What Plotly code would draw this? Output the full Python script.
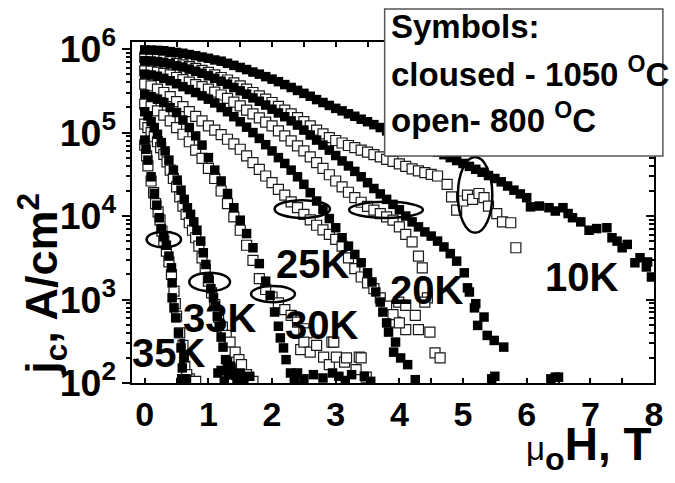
import numpy as np
import plotly.graph_objects as go

# Field mu0*H (T) and log10 of jc (A/cm^2) for each temperature.
# c* = closed symbols (1050 C anneal), o* = open symbols (800 C anneal)

c10_h = [0, 0.1, 0.2, 0.3, 0.4, 0.5, 0.6, 0.7, 0.8, 0.9, 1.0, 1.1, 1.2, 1.3, 1.4, 1.5, 1.6, 1.7, 1.8, 1.9, 2.0,
         2.1, 2.2, 2.3, 2.4, 2.5, 2.6, 2.7, 2.8, 2.9, 3.0, 3.1, 3.2, 3.3, 3.4, 3.5, 3.6, 3.7, 3.8, 3.9, 4.0, 4.1,
         4.2, 4.3, 4.4, 4.5, 4.6, 4.7, 4.8, 4.9, 5.0, 5.1, 5.2, 5.3, 5.4, 5.5, 5.6, 5.7, 5.8, 5.9, 6.0,
         6.06, 6.2, 6.35, 6.45, 6.57, 6.65, 6.72, 6.85, 6.98, 7.1, 7.26, 7.34, 7.42, 7.5, 7.58, 7.7, 7.78, 7.88,
         7.96, 7.9]
c10_lg = [5.99, 5.988, 5.985, 5.98, 5.97, 5.96, 5.95, 5.935, 5.92, 5.905, 5.89, 5.87, 5.855, 5.83, 5.805, 5.78,
          5.755, 5.725, 5.70, 5.67, 5.64, 5.61, 5.575, 5.54, 5.505, 5.47, 5.435, 5.395, 5.36, 5.325, 5.29, 5.26,
          5.225, 5.195, 5.16, 5.13, 5.095, 5.06, 5.02, 4.985, 4.95, 4.92, 4.89, 4.86, 4.83, 4.80, 4.765, 4.735,
          4.70, 4.665, 4.63, 4.595, 4.56, 4.525, 4.485, 4.45, 4.41, 4.36, 4.31, 4.265, 4.22,
          4.11, 4.12, 4.10, 4.06, 4.10, 4.03, 3.98, 3.93, 3.83, 3.85, 3.86, 3.74, 3.70, 3.62, 3.66, 3.44, 3.50,
          3.39, 3.27, 3.45]

o10_h = [0, 0.1, 0.2, 0.3, 0.4, 0.5, 0.6, 0.7, 0.8, 0.9, 1.0, 1.1, 1.2, 1.3, 1.4, 1.5, 1.6, 1.7, 1.8, 1.9, 2.0,
         2.1, 2.2, 2.3, 2.4, 2.5, 2.6, 2.7, 2.8, 2.9, 3.0, 3.1, 3.2, 3.3, 3.4, 3.5, 3.6, 3.7, 3.8, 3.9, 4.0, 4.1,
         4.2, 4.3, 4.4, 4.5, 4.6, 4.75, 4.82, 4.9, 5.0, 5.07, 5.15, 5.25, 5.33, 5.4, 5.53, 5.62, 5.75, 5.83]
o10_lg = [5.90, 5.895, 5.885, 5.87, 5.85, 5.83, 5.81, 5.79, 5.77, 5.745, 5.72, 5.69, 5.66, 5.63, 5.595, 5.56,
          5.52, 5.48, 5.44, 5.40, 5.36, 5.315, 5.27, 5.225, 5.18, 5.13, 5.08, 5.03, 4.985, 4.94, 4.905, 4.875,
          4.845, 4.82, 4.79, 4.765, 4.735, 4.71, 4.68, 4.655, 4.625, 4.595, 4.565, 4.54, 4.52, 4.50, 4.48, 4.38,
          4.23, 4.07, 4.18, 4.25, 4.20, 4.27, 4.22, 4.12, 4.03, 3.93, 3.92, 3.62]

c20_h = [0, 0.1, 0.2, 0.3, 0.4, 0.5, 0.6, 0.7, 0.8, 0.9, 1.0, 1.1, 1.2, 1.3, 1.4, 1.5, 1.6, 1.7, 1.8, 1.9, 2.0,
         2.1, 2.2, 2.3, 2.4, 2.5, 2.6, 2.7, 2.8, 2.9, 3.0, 3.1, 3.2, 3.3, 3.4, 3.5, 3.6, 3.7, 3.8, 3.9, 4.0, 4.1,
         4.2, 4.3, 4.4, 4.5, 4.6, 4.7, 4.8, 4.9, 5.02, 5.07, 5.1, 5.18, 5.2, 5.23, 5.33, 5.38, 5.49, 5.64, 5.45,
         5.5, 6.38, 6.45, 6.5]
c20_lg = [5.86, 5.858, 5.85, 5.84, 5.825, 5.80, 5.785, 5.76, 5.735, 5.71, 5.68, 5.65, 5.615, 5.58, 5.54, 5.50,
          5.46, 5.415, 5.375, 5.33, 5.28, 5.235, 5.19, 5.14, 5.09, 5.03, 4.97, 4.91, 4.85, 4.79, 4.725, 4.66,
          4.60, 4.535, 4.47, 4.40, 4.33, 4.265, 4.20, 4.14, 4.075, 4.00, 3.93, 3.87, 3.81, 3.76, 3.70, 3.63, 3.55,
          3.46, 3.32, 3.14, 3.09, 2.90, 2.95, 2.69, 2.79, 2.57, 2.51, 2.43, 2.05, 2.08, 2.05, 2.07, 2.07]

o20_h = [0, 0.1, 0.2, 0.3, 0.4, 0.5, 0.6, 0.7, 0.8, 0.9, 1.0, 1.1, 1.2, 1.3, 1.4, 1.5, 1.6, 1.7, 1.8, 1.9, 2.0,
         2.1, 2.2, 2.3, 2.4, 2.5, 2.6, 2.7, 2.8, 2.9, 3.0, 3.1, 3.2, 3.3, 3.4, 3.5, 3.6, 3.7, 3.8, 3.9, 4.0, 4.1,
         4.2, 4.3, 4.36, 4.44, 4.4, 3.99, 4.1, 4.25, 3.94, 4.1, 4.3, 4.48, 4.56, 4.64]
o20_lg = [5.74, 5.735, 5.725, 5.71, 5.69, 5.66, 5.635, 5.605, 5.575, 5.55, 5.52, 5.485, 5.45, 5.41, 5.365, 5.32,
          5.27, 5.225, 5.175, 5.125, 5.08, 5.02, 4.96, 4.90, 4.84, 4.78, 4.71, 4.64, 4.57, 4.495, 4.42, 4.35,
          4.285, 4.22, 4.165, 4.115, 4.07, 4.03, 3.99, 3.95, 3.87, 3.78, 3.69, 3.52, 3.38, 3.02, 2.97, 2.97, 2.93,
          2.81, 2.73, 2.64, 2.64, 2.61, 2.36, 2.30]

c25_h = [0, 0.1, 0.2, 0.3, 0.4, 0.5, 0.6, 0.7, 0.8, 0.9, 1.0, 1.1, 1.2, 1.3, 1.4, 1.5, 1.6, 1.7, 1.8, 1.9, 2.0,
         2.1, 2.2, 2.3, 2.4, 2.5, 2.6, 2.7, 2.8, 2.9, 3.0, 3.1, 3.2, 3.3, 3.4, 3.5, 3.57, 3.63, 3.7, 3.74, 3.8,
         3.83, 3.94, 3.91, 4.02, 4.13, 4.25]
c25_lg = [5.70, 5.69, 5.675, 5.65, 5.62, 5.585, 5.55, 5.515, 5.48, 5.44, 5.40, 5.355, 5.30, 5.25, 5.19, 5.13,
          5.065, 5.00, 4.93, 4.855, 4.78, 4.70, 4.63, 4.55, 4.47, 4.38, 4.28, 4.18, 4.08, 3.97, 3.86, 3.74, 3.64,
          3.54, 3.44, 3.32, 3.21, 3.09, 2.97, 2.85, 2.72, 2.61, 2.49, 2.37, 2.30, 2.22, 2.04]

o25_h = [0, 0.1, 0.2, 0.3, 0.4, 0.5, 0.6, 0.7, 0.8, 0.9, 1.0, 1.1, 1.2, 1.3, 1.4, 1.5, 1.6, 1.7, 1.8, 1.9, 2.0,
         2.1, 2.2, 2.3, 2.4, 2.5, 2.6, 2.7, 2.8, 2.9, 3.0, 3.1, 3.2, 3.3, 3.4, 3.5, 3.6, 3.7, 3.8, 3.9, 4.0]
o25_lg = [5.58, 5.56, 5.52, 5.48, 5.43, 5.37, 5.31, 5.25, 5.195, 5.14, 5.08, 5.03, 4.975, 4.92, 4.865, 4.80,
          4.72, 4.64, 4.56, 4.48, 4.40, 4.32, 4.25, 4.17, 4.10, 4.02, 3.955, 3.89, 3.835, 3.78, 3.72, 3.64, 3.50,
          3.37, 3.27, 3.20, 3.13, 3.02, 2.92, 2.82, 2.72]

c30_h = [0, 0.1, 0.2, 0.3, 0.4, 0.5, 0.6, 0.7, 0.8, 0.9, 1.0, 1.1, 1.2, 1.3, 1.4, 1.5, 1.6, 1.7, 1.8, 1.9, 1.97,
         2.04, 2.1, 2.13, 2.18, 2.22, 2.29, 2.35, 2.4, 2.5, 2.65, 2.8, 2.95, 3.05, 3.15, 3.25, 3.45, 3.55]
c30_lg = [5.46, 5.43, 5.40, 5.36, 5.30, 5.24, 5.15, 5.06, 4.96, 4.85, 4.70, 4.55, 4.42, 4.27, 4.10, 3.95, 3.79,
          3.62, 3.43, 3.22, 3.05, 2.85, 2.68, 2.54, 2.42, 2.28, 2.12, 2.02, 2.12, 2.05, 2.10, 2.06, 2.12, 2.08,
          2.03, 2.10, 2.08, 2.02]

o30_h = [0, 0.1, 0.2, 0.3, 0.4, 0.5, 0.6, 0.7, 0.8, 0.9, 1.0, 1.1, 1.2, 1.3, 1.4, 1.5, 1.6, 1.7, 1.8, 1.9, 2.0,
         2.1, 2.2, 2.3, 2.4, 2.5, 2.55, 2.45, 2.5, 2.6, 2.7, 2.81, 2.9, 2.94, 2.97, 3.01, 3.14, 3.17, 3.32, 3.37,
         3.4, 3.48]
o30_lg = [5.34, 5.31, 5.26, 5.21, 5.14, 5.06, 4.98, 4.89, 4.79, 4.69, 4.57, 4.45, 4.30, 4.15, 3.99, 3.83, 3.65,
          3.47, 3.25, 3.12, 3.03, 2.96, 2.88, 2.81, 2.73, 2.65, 2.60, 2.40, 2.49, 2.37, 2.45, 2.31, 2.22, 2.49,
          2.49, 2.31, 2.25, 2.30, 2.16, 2.31, 2.30, 2.07]

c33_h = [0, 0.05, 0.1, 0.15, 0.2, 0.26, 0.32, 0.38, 0.45, 0.51, 0.57, 0.62, 0.67, 0.72, 0.77, 0.82, 0.88, 0.92,
         0.96, 1.0, 1.04, 1.08, 1.11, 1.14, 1.17, 1.2, 1.23, 1.27, 1.31, 1.15, 1.2, 1.25, 1.35, 1.4, 1.45, 1.5,
         1.55, 1.65, 1.3]
c33_lg = [5.25, 5.20, 5.13, 5.06, 4.98, 4.88, 4.78, 4.67, 4.55, 4.43, 4.31, 4.20, 4.10, 4.02, 3.93, 3.83, 3.70,
          3.56, 3.42, 3.25, 3.13, 3.02, 2.92, 2.80, 2.68, 2.55, 2.43, 2.28, 2.10, 2.12, 2.15, 2.02, 2.20, 2.10,
          2.05, 2.12, 2.03, 2.08, 2.25]

o33_h = [0, 0.05, 0.1, 0.15, 0.2, 0.25, 0.3, 0.35, 0.4, 0.45, 0.5, 0.55, 0.6, 0.65, 0.7, 0.75, 0.8, 0.85, 0.9,
         0.95, 1.0, 1.05, 1.1, 1.16, 1.22, 1.28, 1.34, 1.42, 1.48, 1.52, 1.6, 1.7, 1.45, 1.35]
o33_lg = [5.10, 5.06, 5.00, 4.95, 4.89, 4.82, 4.74, 4.65, 4.55, 4.45, 4.35, 4.23, 4.12, 4.02, 3.92, 3.83, 3.74,
          3.64, 3.50, 3.36, 3.22, 3.08, 2.94, 2.79, 2.67, 2.57, 2.49, 2.37, 2.28, 2.22, 2.10, 2.02, 2.10, 2.15]

c35_h = [0, 0.02, 0.05, 0.1, 0.15, 0.19, 0.23, 0.26, 0.3, 0.34, 0.38, 0.42, 0.43, 0.43, 0.46, 0.49, 0.53, 0.57,
         0.59, 0.62, 0.65, 0.58]
c35_lg = [4.91, 4.80, 4.67, 4.47, 4.27, 4.13, 3.98, 3.85, 3.75, 3.65, 3.52, 3.38, 3.20, 3.02, 2.90, 2.78, 2.60,
          2.42, 2.18, 2.30, 2.05, 2.05]

o35_h = [0, 0.03, 0.05, 0.1, 0.14, 0.17, 0.21, 0.24, 0.27, 0.3, 0.34, 0.38, 0.42, 0.46, 0.48, 0.5, 0.55, 0.6,
         0.63, 0.7, 0.66, 0.8]
o35_lg = [4.85, 4.72, 4.60, 4.42, 4.28, 4.15, 4.05, 3.95, 3.82, 3.70, 3.58, 3.45, 3.30, 3.10, 2.95, 2.80, 2.60,
          2.45, 2.20, 2.05, 2.10, 2.02]

open_sets = [(o10_h, o10_lg), (o20_h, o20_lg), (o25_h, o25_lg), (o30_h, o30_lg), (o33_h, o33_lg), (o35_h, o35_lg)]
closed_sets = [(c10_h, c10_lg), (c20_h, c20_lg), (c25_h, c25_lg), (c30_h, c30_lg), (c33_h, c33_lg),
               (c35_h, c35_lg)]

# temperature labels: (text, field, jc)
temp_labels = [("35K", 0.37, 230), ("33K", 1.17, 600), ("30K", 2.78, 500), ("25K", 2.64, 2700),
               ("20K", 4.42, 1300), ("10K", 6.86, 1850)]

# ellipses marking the crossing regions: (H0, H1, jc0, jc1)
ellipses = [(0.03, 0.57, 4.2e3, 6.5e3), (0.70, 1.34, 1.26e3, 2.1e3), (1.67, 2.36, 9.3e2, 1.45e3),
            (2.04, 2.91, 9.5e3, 1.55e4), (3.21, 4.37, 9.5e3, 1.48e4), (4.92, 5.46, 6.3e3, 5.1e4)]

FONT = "Liberation Sans, Arial, sans-serif"

fig = go.Figure()
for h, lg in open_sets:
    fig.add_trace(go.Scatter(x=h, y=10 ** np.array(lg), mode="markers", showlegend=False,
                             marker=dict(symbol="square", size=10, color="white",
                                         line=dict(color="#1a1a1a", width=1.2)), cliponaxis=True))
for h, lg in closed_sets:
    fig.add_trace(go.Scatter(x=h, y=10 ** np.array(lg), mode="markers", showlegend=False,
                             marker=dict(symbol="square", size=9.5, color="black", line=dict(width=0)),
                             cliponaxis=True))
# empty trace so the mirrored top/right axes get drawn
fig.add_trace(go.Scatter(x=[], y=[], xaxis="x2", yaxis="y2", showlegend=False))

x_range = [-0.2, 8.0]
y_range = [2.0, 6.085]

fig.update_layout(
    width=675, height=483,
    margin=dict(l=132, r=12, t=42, b=100),
    plot_bgcolor="white", paper_bgcolor="white",
    font=dict(family=FONT, color="black"),
    xaxis=dict(range=x_range, showgrid=False, zeroline=False, showline=True, linecolor="black", linewidth=2,
               ticks="inside", ticklen=5, tickwidth=2, tickcolor="black", tickvals=list(range(9)),
               tickfont=dict(family=FONT, size=34, weight="bold"),
               minor=dict(ticks="inside", dtick=0.5, ticklen=5, tickwidth=2, tickcolor="black")),
    xaxis2=dict(range=x_range, overlaying="x", side="top", anchor="y", showgrid=False, zeroline=False,
                showline=True, linecolor="black", linewidth=2, ticks="inside", ticklen=5, tickwidth=2,
                tickcolor="black", dtick=0.5, tick0=0, showticklabels=False),
    yaxis=dict(type="log", range=y_range, showgrid=False, zeroline=False, showline=True, linecolor="black",
               linewidth=2, ticks="outside", ticklen=8, tickwidth=2, tickcolor="black", dtick=1,
               exponentformat="power", tickfont=dict(family=FONT, size=30, weight="bold"),
               minor=dict(ticks="outside", dtick="D1", ticklen=4, tickwidth=1.5, tickcolor="black")),
    yaxis2=dict(type="log", range=y_range, overlaying="y", side="right", anchor="x", showgrid=False,
                zeroline=False, showline=True, linecolor="black", linewidth=2, ticks="inside", ticklen=8,
                tickwidth=2, tickcolor="black", dtick=1, showticklabels=False,
                minor=dict(ticks="inside", dtick="D1", ticklen=5, tickwidth=1.5, tickcolor="black")),
)

shapes = []
for h0, h1, j0, j1 in ellipses:
    shapes.append(dict(type="circle", xref="x", yref="y", x0=h0, x1=h1, y0=j0, y1=j1,
                       line=dict(color="black", width=2.5), layer="above"))
# legend frame
shapes.append(dict(type="rect", xref="paper", yref="paper", x0=0.484, x1=1.017, y0=0.666, y1=1.097,
                   fillcolor="white", line=dict(color="#555555", width=1.5), layer="above"))
fig.update_layout(shapes=shapes)

annotations = []
for text, h, jc in temp_labels:
    annotations.append(dict(x=h, y=np.log10(jc), xref="x", yref="y", text=text, showarrow=False,
                            font=dict(family=FONT, size=40, weight="bold", color="black")))

legend_lines = [("Symbols:", 1.045), ("cloused - 1050 <sup>O</sup>C", 0.912), ("open- 800 <sup>O</sup>C", 0.778)]
for text, yp in legend_lines:
    annotations.append(dict(x=0.4915, y=yp, xref="paper", yref="paper", xanchor="left", yanchor="middle",
                            text=text, showarrow=False,
                            font=dict(family=FONT, size=33, weight="bold", color="black")))

# axis titles
annotations.append(dict(x=-0.173, y=0.29, xref="paper", yref="paper", xanchor="center", yanchor="middle",
                        textangle=-90, text="j<sub>c</sub>, A/cm<sup>2</sup>", showarrow=False,
                        font=dict(family=FONT, size=45, weight="bold", color="black")))
annotations.append(dict(x=1.0, y=-0.188, xref="paper", yref="paper", xanchor="right", yanchor="middle",
                        text="<span style='font-weight:normal;font-size:33px'>μ</span><sub>o</sub>H, T",
                        showarrow=False, font=dict(family=FONT, size=46, weight="bold", color="black")))
fig.update_layout(annotations=annotations)

fig.write_html("out.html")
